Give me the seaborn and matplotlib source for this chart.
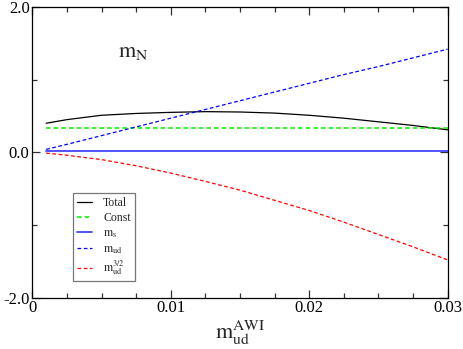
import numpy as np
import pandas as pd
import matplotlib
matplotlib.use("Agg")
import matplotlib.pyplot as plt
import seaborn as sns
from matplotlib.ticker import FixedLocator

# ---- data ----
m_ud_awi = [0.001, 0.0025, 0.005, 0.0075, 0.01, 0.0125, 0.015, 0.0175, 0.02, 0.0225, 0.025, 0.0275, 0.03]
total    = [0.40, 0.45, 0.51, 0.535, 0.55, 0.56, 0.555, 0.54, 0.51, 0.47, 0.42, 0.37, 0.31]
const    = [0.34] * 13
m_s      = [0.015] * 13
m_ud     = [0.04, 0.11, 0.23, 0.35, 0.47, 0.59, 0.71, 0.83, 0.95, 1.07, 1.18, 1.30, 1.42]
m_ud32   = [-0.01, -0.04, -0.10, -0.185, -0.285, -0.40, -0.52, -0.66, -0.80, -0.96, -1.13, -1.30, -1.48]

series_names = ["Total", "Const", r"$\mathrm{m_s}$", r"$\mathrm{m_{ud}}$", r"$\mathrm{m_{ud}^{3/2}}$"]
series_vals = [total, const, m_s, m_ud, m_ud32]

x_ticks = [0, 0.01, 0.02, 0.03]
x_ticklabels = ["0", "0.01", "0.02", "0.03"]
y_ticks = [-2.0, 0.0, 2.0]
y_ticklabels = ["-2.0", "0.0", "2.0"]

sns.set_theme(style="ticks")
plt.rcParams["font.family"] = ["Liberation Serif", "DejaVu Serif"]
plt.rcParams["mathtext.fontset"] = "stix"

df = pd.DataFrame({
    "x": np.tile(m_ud_awi, len(series_names)),
    "y": np.concatenate(series_vals),
    "series": np.repeat(series_names, len(m_ud_awi)),
})

colors = ["#000000", "#00ee00", "#4444ff", "#0000ff", "#ff0000"]
styles = ["-", (0, (3, 2)), "-", (0, (3, 2)), (0, (3, 2))]
widths = [0.9, 1.1, 1.3, 0.9, 0.9]

fig = plt.figure(figsize=(4.63, 3.49), dpi=100)
ax = fig.add_axes([0.0698, 0.147, 0.897, 0.833])

for name, c, ls, lw in zip(series_names, colors, styles, widths):
    sub = df[df["series"] == name]
    sns.lineplot(data=sub, x="x", y="y", ax=ax, color=c, linestyle=ls,
                 linewidth=lw, label=name, estimator=None, sort=False)

ax.set_xlim(0, 0.03)
ax.set_ylim(-2, 2)
ax.set_xlabel("")
ax.set_ylabel("")

ax.xaxis.set_major_locator(FixedLocator(x_ticks))
ax.set_xticklabels(x_ticklabels)
ax.xaxis.set_minor_locator(FixedLocator([0.0025, 0.005, 0.0075, 0.0125, 0.015, 0.0175,
                                         0.0225, 0.025, 0.0275]))
ax.yaxis.set_major_locator(FixedLocator(y_ticks))
ax.set_yticklabels(y_ticklabels)
ax.yaxis.set_minor_locator(FixedLocator([-1.0, 1.0]))

ax.tick_params(which="both", direction="in", top=True, right=True, colors="#333333",
               labelcolor="black", labelsize=12, width=0.9)
ax.tick_params(which="major", length=6, pad=2)
ax.tick_params(which="minor", length=3.5)
for sp in ax.spines.values():
    sp.set_linewidth(0.9)
    sp.set_color("black")

leg = ax.legend(loc="upper left", bbox_to_anchor=(0.098, 0.36), fontsize=8.5,
                frameon=True, fancybox=False, edgecolor="#555555",
                handlelength=1.3, handletextpad=0.9, borderpad=0.35,
                labelspacing=0.25, borderaxespad=0)
leg.get_frame().set_linewidth(0.9)

ax.text(0.206, 0.828, r"$\mathrm{m_N}$", transform=ax.transAxes, fontsize=16,
        ha="left", va="baseline")
fig.text(215 / 463, 1 - 339 / 349, r"$\mathrm{m_{ud}^{AWI}}$", fontsize=16,
         ha="left", va="baseline")

fig.savefig("out.png", dpi=100)
